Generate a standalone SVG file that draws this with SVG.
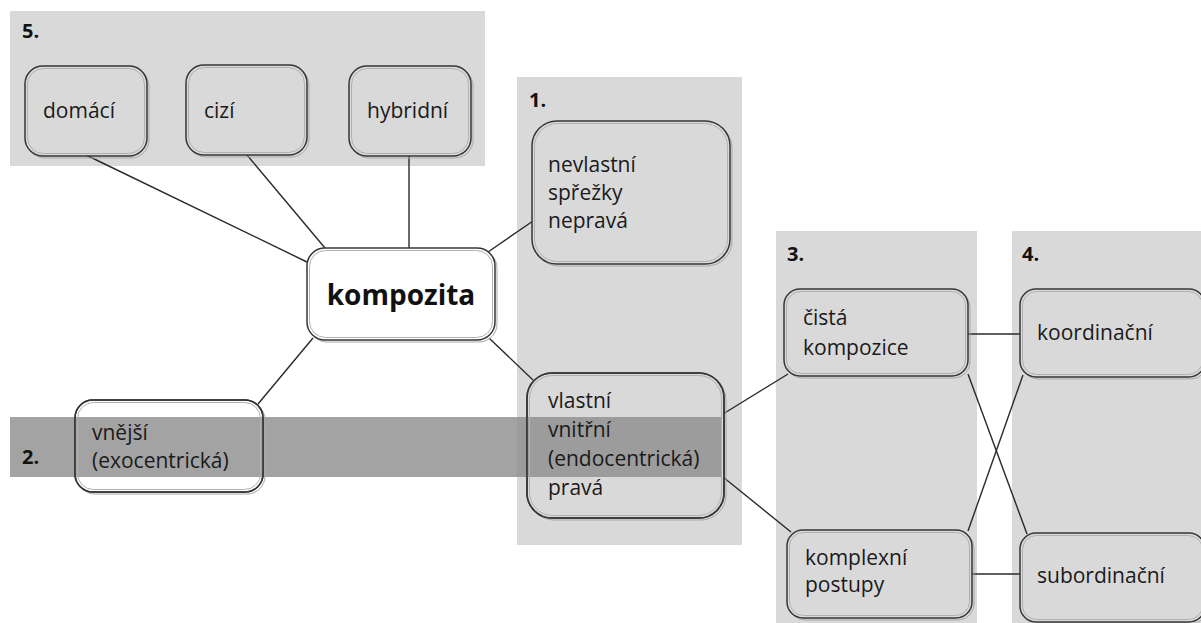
<svg xmlns="http://www.w3.org/2000/svg" width="1201" height="623" viewBox="0 0 1201 623">
  <style>
    .panel { fill: #d9d9d9; }
    .band { fill: #8c8c8c; fill-opacity: 0.8; }
    .edge { stroke: #2a2a2a; stroke-width: 1.4; fill: none; }
    .shadow { fill: none; stroke: #a8a8a8; stroke-width: 1; }
    .box { stroke: #363636; stroke-width: 1.5; }
    .inner { fill: none; stroke: #b0b0b0; stroke-width: 1; }
    .grey { fill: #d9d9d9; }
    .white { fill: #ffffff; }
    .lbl { font-family: "Open Sans", "Liberation Sans", sans-serif; font-size: 21px; fill: #1a1a1a; }
    .num { font-family: "Open Sans", "Liberation Sans", sans-serif; font-size: 20px; font-weight: bold; fill: #111; }
    .main { font-family: "Open Sans", "Liberation Sans", sans-serif; font-size: 28px; font-weight: bold; fill: #111; }
  </style>

  <!-- background panels -->
  <g id="panels">
    <rect class="panel" x="10" y="11" width="475" height="155"/>
    <rect class="panel" x="517" y="77" width="225" height="468"/>
    <rect class="panel" x="776" y="231" width="201" height="392"/>
    <rect class="panel" x="1012" y="231" width="189" height="392"/>
    <text class="num" x="22" y="38">5.</text>
    <text class="num" x="529" y="107">1.</text>
    <text class="num" x="787" y="261">3.</text>
    <text class="num" x="1022" y="261">4.</text>
  </g>

  <!-- translucent band across the exocentric / endocentric row -->
  <g id="band">
    <rect class="band" x="10" y="417" width="712" height="60"/>
    <text class="num" x="22" y="464">2.</text>
  </g>

  <!-- connectors -->
  <g id="connectors">
    <line class="edge" x1="307" y1="262" x2="86" y2="155"/>
    <line class="edge" x1="325" y1="248" x2="247" y2="155"/>
    <line class="edge" x1="409" y1="248" x2="409" y2="156"/>
    <line class="edge" x1="488" y1="252" x2="533" y2="221"/>
    <line class="edge" x1="489" y1="338" x2="533" y2="380"/>
    <line class="edge" x1="313" y1="338" x2="258" y2="404"/>
    <line class="edge" x1="723" y1="414" x2="788" y2="374"/>
    <line class="edge" x1="723" y1="477" x2="791" y2="532"/>
    <line class="edge" x1="968" y1="334" x2="1020" y2="334"/>
    <line class="edge" x1="972" y1="574" x2="1020" y2="574"/>
    <line class="edge" x1="968" y1="374" x2="1027" y2="534"/>
    <line class="edge" x1="1023" y1="375" x2="968" y2="531"/>
  </g>

  <!-- nodes -->
  <g id="n-domaci">
    <rect class="shadow" x="27" y="68" width="122" height="90" rx="18"/>
    <rect class="box grey" x="25" y="66" width="122" height="90" rx="18"/>
    <rect class="inner" x="27.5" y="68.5" width="117" height="85" rx="16"/>
    <text class="lbl" x="43" y="118">domácí</text>
  </g>
  <g id="n-cizi">
    <rect class="shadow" x="188" y="67" width="121" height="90" rx="18"/>
    <rect class="box grey" x="186" y="65" width="121" height="90" rx="18"/>
    <rect class="inner" x="188.5" y="67.5" width="116" height="85" rx="16"/>
    <text class="lbl" x="204" y="118">cizí</text>
  </g>
  <g id="n-hybridni">
    <rect class="shadow" x="351" y="68" width="122" height="90" rx="18"/>
    <rect class="box grey" x="349" y="66" width="122" height="90" rx="18"/>
    <rect class="inner" x="351.5" y="68.5" width="117" height="85" rx="16"/>
    <text class="lbl" x="367" y="118">hybridní</text>
  </g>
  <g id="n-kompozita">
    <rect class="shadow" x="309" y="250" width="188" height="92" rx="18"/>
    <rect class="box white" x="307" y="248" width="188" height="92" rx="18"/>
    <rect class="inner" x="309.5" y="250.5" width="183" height="87" rx="16"/>
    <text class="main" x="401" y="305" text-anchor="middle">kompozita</text>
  </g>
  <g id="n-nevlastni">
    <rect class="shadow" x="534" y="123" width="198" height="143" rx="25"/>
    <rect class="box grey" x="532" y="121" width="198" height="143" rx="25"/>
    <rect class="inner" x="534.5" y="123.5" width="193" height="138" rx="23"/>
    <text class="lbl" x="548" y="172">nevlastní</text>
    <text class="lbl" x="548" y="200">spřežky</text>
    <text class="lbl" x="548" y="228">nepravá</text>
  </g>
  <g id="n-vnejsi">
    <rect class="shadow" x="77" y="402" width="188" height="92" rx="18"/>
    <rect class="box white" x="75" y="400" width="188" height="92" rx="18"/>
    <rect class="band" x="75" y="417" width="188" height="60"/>
    <rect class="box" fill="none" x="75" y="400" width="188" height="92" rx="18"/>
    <rect class="inner" x="77.5" y="402.5" width="183" height="87" rx="16"/>
    <text class="lbl" x="92" y="440">vnější</text>
    <text class="lbl" x="92" y="468">(exocentrická)</text>
  </g>
  <g id="n-vlastni">
    <rect class="shadow" x="529" y="375" width="197" height="145" rx="25"/>
    <rect class="box grey" x="527" y="373" width="197" height="145" rx="25"/>
    <rect class="band" x="527" y="417" width="195" height="60"/>
    <rect class="box" fill="none" x="527" y="373" width="197" height="145" rx="25"/>
    <rect class="inner" x="529.5" y="375.5" width="192" height="140" rx="23"/>
    <text class="lbl" x="548" y="408">vlastní</text>
    <text class="lbl" x="548" y="437">vnitřní</text>
    <text class="lbl" x="548" y="466">(endocentrická)</text>
    <text class="lbl" x="548" y="495">pravá</text>
  </g>
  <g id="n-cista">
    <rect class="shadow" x="786" y="291" width="184" height="87" rx="16"/>
    <rect class="box grey" x="784" y="289" width="184" height="87" rx="16"/>
    <rect class="inner" x="786.5" y="291.5" width="179" height="82" rx="14"/>
    <text class="lbl" x="803" y="325">čistá</text>
    <text class="lbl" x="803" y="355">kompozice</text>
  </g>
  <g id="n-koordinacni">
    <rect class="shadow" x="1022" y="291" width="185" height="88" rx="16"/>
    <rect class="box grey" x="1020" y="289" width="185" height="88" rx="16"/>
    <rect class="inner" x="1022.5" y="291.5" width="180" height="83" rx="14"/>
    <text class="lbl" x="1037" y="340">koordinační</text>
  </g>
  <g id="n-komplexni">
    <rect class="shadow" x="789" y="532" width="185" height="88" rx="16"/>
    <rect class="box grey" x="787" y="530" width="185" height="88" rx="16"/>
    <rect class="inner" x="789.5" y="532.5" width="180" height="83" rx="14"/>
    <text class="lbl" x="805" y="565">komplexní</text>
    <text class="lbl" x="805" y="592">postupy</text>
  </g>
  <g id="n-subordinacni">
    <rect class="shadow" x="1022" y="535" width="185" height="89" rx="16"/>
    <rect class="box grey" x="1020" y="533" width="185" height="89" rx="16"/>
    <rect class="inner" x="1022.5" y="535.5" width="180" height="84" rx="14"/>
    <text class="lbl" x="1037" y="583">subordinační</text>
  </g>
</svg>
